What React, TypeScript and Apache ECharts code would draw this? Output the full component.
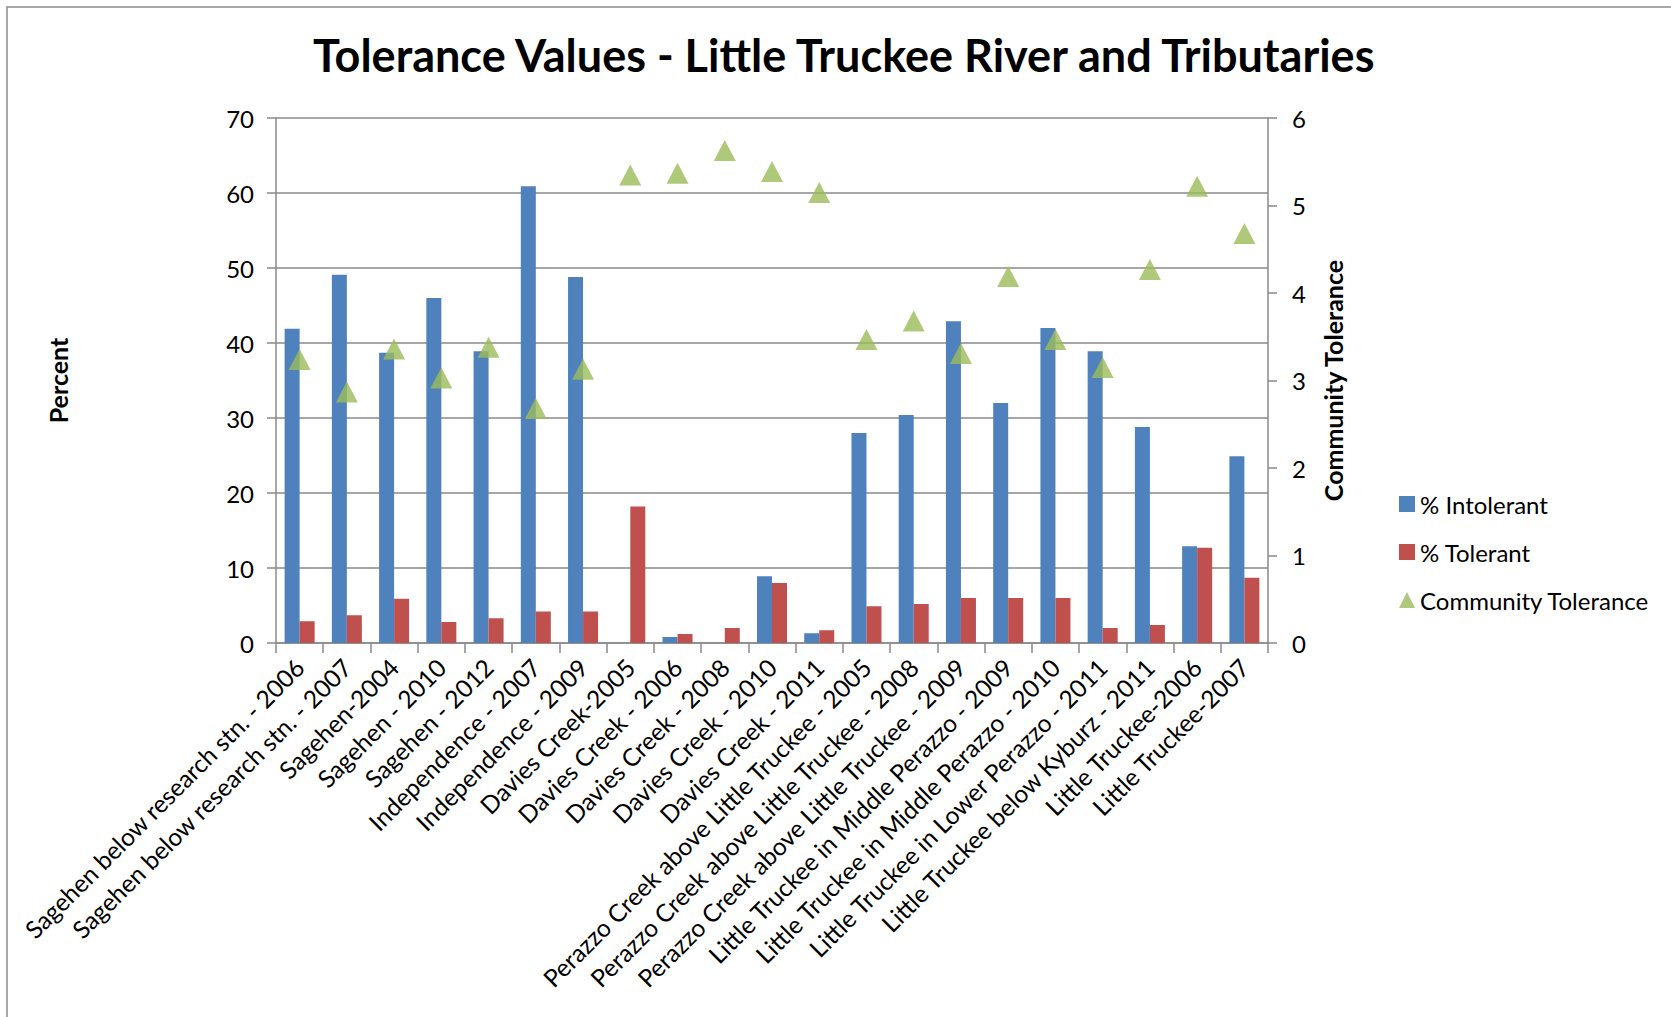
import { useEffect, useRef } from "react";
import * as echarts from "echarts";

const categories = [
  "Sagehen below research stn. - 2006",
  "Sagehen below research stn. - 2007",
  "Sagehen-2004",
  "Sagehen - 2010",
  "Sagehen - 2012",
  "Independence - 2007",
  "Independence - 2009",
  "Davies Creek-2005",
  "Davies Creek - 2006",
  "Davies Creek - 2008",
  "Davies Creek - 2010",
  "Davies Creek - 2011",
  "Perazzo Creek above Little Truckee - 2005",
  "Perazzo Creek above Little Truckee - 2008",
  "Perazzo Creek above Little Truckee - 2009",
  "Little Truckee in Middle Perazzo - 2009",
  "Little Truckee in Middle Perazzo - 2010",
  "Little Truckee in Lower Perazzo - 2011",
  "Little Truckee below Kyburz - 2011",
  "Little Truckee-2006",
  "Little Truckee-2007",
];

const intolerant = [41.9, 49.1, 38.7, 46.0, 38.9, 60.9, 48.8, 0, 0.8, 0, 8.9, 1.3, 28.0, 30.4, 42.9, 32.0, 42.0, 38.9, 28.8, 12.9, 24.9];
const tolerant = [2.9, 3.7, 5.9, 2.8, 3.3, 4.2, 4.2, 18.2, 1.2, 2.0, 8.0, 1.7, 4.9, 5.2, 6.0, 6.0, 6.0, 2.0, 2.4, 12.7, 8.7];
const communityTolerance = [3.24, 2.87, 3.36, 3.03, 3.38, 2.68, 3.13, 5.35, 5.37, 5.63, 5.39, 5.15, 3.47, 3.68, 3.31, 4.19, 3.47, 3.15, 4.27, 5.22, 4.68];

const titleText = "Tolerance Values - Little Truckee River and Tributaries";
const leftAxisName = "Percent";
const rightAxisName = "Community Tolerance";
const seriesNames = ["% Intolerant", "% Tolerant", "Community Tolerance"];

const FONT = "Lato, 'Noto Sans', sans-serif";
const GRAY = "#8a8a8a";

export default function App() {
  const ref = useRef<HTMLDivElement>(null);
  useEffect(() => {
    const chart = echarts.init(ref.current!, null, { renderer: "svg" });
    chart.setOption({
      animation: false,
      backgroundColor: "#ffffff",
      textStyle: { fontFamily: FONT, color: "#000" },
      title: {
        text: titleText,
        left: 313,
        top: 32,
        padding: 0,
        textStyle: { fontFamily: FONT, fontSize: 45, fontWeight: "bold", color: "#000" },
      },
      graphic: [
        {
          type: "rect",
          shape: { x: 7, y: 7, width: 2000, height: 2000 },
          style: { fill: "none", stroke: GRAY, lineWidth: 1.5 },
          silent: true,
          z: -10,
        },
      ],
      legend: {
        orient: "vertical",
        left: 1394,
        top: 485,
        itemWidth: 16,
        itemHeight: 16,
        itemGap: 20,
        textStyle: { fontFamily: FONT, fontSize: 24, color: "#000", lineHeight: 28 },
        data: [
          { name: seriesNames[0], icon: "rect" },
          { name: seriesNames[1], icon: "rect" },
          { name: seriesNames[2], icon: "triangle" },
        ],
      },
      grid: { left: 276, right: 403, top: 118, bottom: 374, containLabel: false },
      xAxis: {
        type: "category",
        data: categories,
        boundaryGap: true,
        axisLine: { show: true, lineStyle: { color: GRAY, width: 1.5 } },
        axisTick: { show: true, length: 10, lineStyle: { color: GRAY, width: 1.5 } },
        axisLabel: {
          interval: 0,
          rotate: 45,
          align: "right",
          verticalAlign: "middle",
          margin: 20,
          fontFamily: FONT,
          fontSize: 24.5,
          color: "#000",
        },
      },
      yAxis: [
        {
          type: "value",
          min: 0,
          max: 70,
          interval: 10,
          name: leftAxisName,
          nameLocation: "middle",
          nameGap: 206,
          nameTextStyle: { fontFamily: FONT, fontSize: 25, fontWeight: "bold", color: "#000" },
          axisLine: { show: true, lineStyle: { color: GRAY, width: 1.5 } },
          axisTick: { show: true, length: 9, lineStyle: { color: GRAY, width: 1.5 } },
          axisLabel: { margin: 22, fontFamily: FONT, fontSize: 24, color: "#000" },
          splitLine: { show: true, lineStyle: { color: GRAY, width: 1.5 } },
        },
        {
          type: "value",
          min: 0,
          max: 6,
          interval: 1,
          position: "right",
          name: rightAxisName,
          nameLocation: "middle",
          nameGap: 52,
          nameTextStyle: { fontFamily: FONT, fontSize: 25, fontWeight: "bold", color: "#000" },
          axisLine: { show: true, lineStyle: { color: GRAY, width: 1.5 } },
          axisTick: { show: true, length: 9, lineStyle: { color: GRAY, width: 1.5 } },
          axisLabel: { margin: 24, fontFamily: FONT, fontSize: 24, color: "#000" },
          splitLine: { show: false },
        },
      ],
      series: [
        {
          name: seriesNames[0],
          type: "bar",
          data: intolerant,
          barWidth: 15,
          barGap: "0%",
          itemStyle: { color: "#4F81BD" },
        },
        {
          name: seriesNames[1],
          type: "bar",
          data: tolerant,
          barWidth: 15,
          barGap: "0%",
          itemStyle: { color: "#C0504D" },
        },
        {
          name: seriesNames[2],
          type: "scatter",
          yAxisIndex: 1,
          data: communityTolerance,
          symbol: "triangle",
          symbolSize: [22, 21],
          itemStyle: { color: "#9BBB59" },
          z: 5,
        },
      ],
    });
    return () => chart.dispose();
  }, []);
  return (
    <div
      ref={ref}
      style={{ position: "fixed", left: 0, top: 0, width: 1671, height: 1017, background: "#fff" }}
    />
  );
}
